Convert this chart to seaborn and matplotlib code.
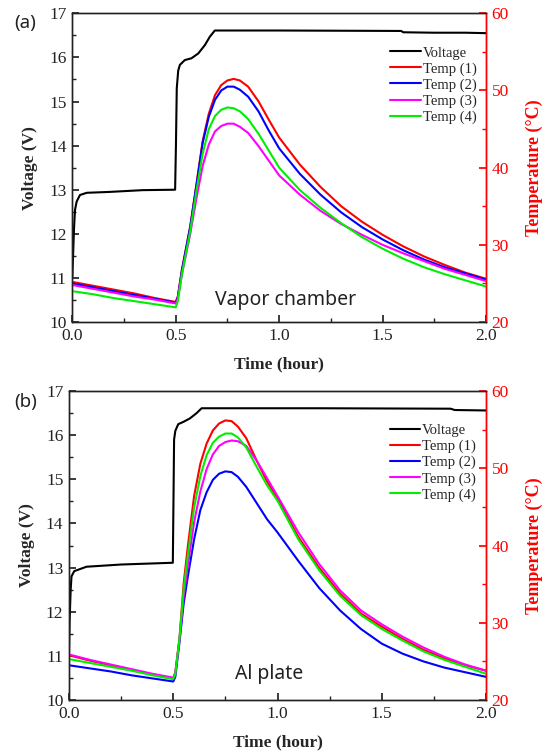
import numpy as np
import pandas as pd
import matplotlib
matplotlib.use("Agg")
import matplotlib.pyplot as plt
import seaborn as sns
from matplotlib.ticker import MultipleLocator

# voltage traces (time in hours, volts)
volt_t_a = [0, 0.003, 0.008, 0.013, 0.021, 0.037, 0.07, 0.18, 0.34, 0.497, 0.501, 0.505,
            0.512, 0.52, 0.544, 0.576, 0.609, 0.641, 0.665, 0.689, 1.0, 1.59, 1.6, 1.75, 1.9, 2.0]
volt_a = [11.0, 11.4, 12.1, 12.54, 12.73, 12.88, 12.93, 12.95, 12.99, 13.0, 14.0, 15.3,
          15.7, 15.83, 15.94, 15.98, 16.09, 16.28, 16.47, 16.61, 16.61, 16.6, 16.57, 16.56, 16.56, 16.55]

volt_t_b = [0, 0.003, 0.008, 0.012, 0.025, 0.084, 0.25, 0.498, 0.501, 0.504, 0.51, 0.524,
            0.548, 0.58, 0.612, 0.636, 1.2, 1.83, 1.85, 2.0]
volt_b = [11.07, 11.8, 12.5, 12.8, 12.92, 13.02, 13.07, 13.11, 14.5, 15.9, 16.1, 16.25,
          16.3, 16.38, 16.5, 16.61, 16.61, 16.6, 16.57, 16.56]

# temperature traces, same time grid for both panels
temp_t = [0, 0.1, 0.2, 0.3, 0.4, 0.5, 0.51, 0.53, 0.55, 0.57, 0.6, 0.63, 0.66, 0.69, 0.72,
          0.75, 0.78, 0.81, 0.85, 0.9, 0.95, 1.0, 1.1, 1.2, 1.3, 1.4, 1.5, 1.6, 1.7, 1.8, 1.9, 2.0]

temp1_a = [25.2, 24.7, 24.2, 23.7, 23.1, 22.6, 23.3, 26.8, 29.6, 32.4, 37.8, 43.4, 47.0, 49.4, 50.7,
           51.3, 51.5, 51.3, 50.5, 48.6, 46.2, 43.9, 40.4, 37.5, 35.0, 33.0, 31.3, 29.8, 28.5, 27.4, 26.4, 25.6]
temp2_a = [25.0, 24.5, 24.0, 23.5, 23.0, 22.5, 23.2, 26.7, 29.5, 32.3, 37.7, 43.2, 46.6, 48.8, 50.0,
           50.5, 50.5, 50.1, 49.2, 47.3, 44.8, 42.5, 39.2, 36.5, 34.2, 32.3, 30.7, 29.3, 28.1, 27.1, 26.3, 25.5]
temp3_a = [24.8, 24.3, 23.8, 23.3, 22.9, 22.4, 23.0, 26.2, 28.8, 31.4, 36.0, 40.2, 43.0, 44.7, 45.4,
           45.7, 45.7, 45.3, 44.5, 42.8, 40.9, 39.0, 36.5, 34.4, 32.7, 31.3, 30.0, 28.9, 27.9, 26.9, 26.1, 25.3]
temp4_a = [24.0, 23.6, 23.1, 22.7, 22.3, 21.9, 22.7, 26.2, 29.0, 31.8, 37.0, 41.8, 45.0, 46.7, 47.5,
           47.8, 47.7, 47.3, 46.3, 44.4, 42.2, 40.0, 37.1, 34.8, 32.8, 31.0, 29.5, 28.2, 27.1, 26.2, 25.4, 24.6]

temp1_b = [25.8, 25.1, 24.5, 23.9, 23.3, 22.8, 23.6, 28.0, 35.1, 39.9, 46.4, 50.6, 53.2, 54.9, 55.8,
           56.2, 56.1, 55.4, 53.9, 51.0, 48.3, 46.1, 41.1, 37.1, 33.8, 31.2, 29.5, 27.9, 26.5, 25.4, 24.5, 23.8]
temp2_b = [24.5, 24.1, 23.7, 23.2, 22.8, 22.4, 23.0, 27.5, 32.5, 36.0, 40.8, 44.6, 46.9, 48.5, 49.3,
           49.6, 49.5, 48.9, 47.6, 45.5, 43.4, 41.7, 38.0, 34.5, 31.6, 29.2, 27.3, 26.0, 25.0, 24.2, 23.6, 23.0]
temp3_b = [25.9, 25.2, 24.6, 24.0, 23.4, 22.9, 23.5, 27.9, 33.5, 37.4, 43.0, 47.0, 49.9, 51.8, 52.9,
           53.4, 53.6, 53.5, 52.9, 51.0, 48.7, 46.4, 41.7, 37.6, 34.2, 31.6, 29.8, 28.2, 26.8, 25.6, 24.6, 23.8]
temp4_b = [25.3, 24.8, 24.3, 23.8, 23.2, 22.7, 23.4, 28.0, 34.4, 38.8, 44.9, 49.0, 51.7, 53.3, 54.1,
           54.5, 54.5, 54.0, 52.7, 50.2, 47.8, 45.8, 40.8, 36.8, 33.5, 31.0, 29.2, 27.7, 26.3, 25.2, 24.3, 23.4]

temp_labels = ["Temp (1)", "Temp (2)", "Temp (3)", "Temp (4)"]
temp_colors = ["#ff0000", "#0000ff", "#ff00ff", "#00ee00"]

sns.set_theme(style="ticks")
plt.rcParams["font.family"] = ["Liberation Serif", "DejaVu Serif"]

fig = plt.figure(figsize=(5.42, 7.52), dpi=100)

panels = [
    ([0.1334, 0.5718, 0.7633, 0.4105], volt_t_a, volt_a, [temp1_a, temp2_a, temp3_a, temp4_a],
     "(a)", 0.969, "Vapor chamber", 1.03, 10.5),
    ([0.1273, 0.0691, 0.7694, 0.4109], volt_t_b, volt_b, [temp1_b, temp2_b, temp3_b, temp4_b],
     "(b)", 0.466, "Al plate", 0.96, 10.6),
]

for rect, vt, vv, temps, tag, tag_y, note, note_x, note_y in panels:
    ax = fig.add_axes(rect)
    ax2 = ax.twinx()

    sns.lineplot(x=vt, y=vv, ax=ax, color="black", lw=1.5, label="Voltage",
                 estimator=None, sort=False, legend=False)
    for vals, lab, col in zip(temps, temp_labels, temp_colors):
        sns.lineplot(x=temp_t, y=vals, ax=ax2, color=col, lw=1.5, label=lab,
                     estimator=None, sort=False, legend=False)

    ax.set_xlim(0, 2.0)
    ax.set_ylim(10, 17)
    ax2.set_ylim(20, 60)
    ax.xaxis.set_major_locator(MultipleLocator(0.5))
    ax.xaxis.set_minor_locator(MultipleLocator(0.25))
    ax.yaxis.set_major_locator(MultipleLocator(1))
    ax.yaxis.set_minor_locator(MultipleLocator(0.5))
    ax2.yaxis.set_major_locator(MultipleLocator(10))
    ax2.yaxis.set_minor_locator(MultipleLocator(5))
    ax.xaxis.set_major_formatter(plt.FormatStrFormatter("%.1f"))

    ax.tick_params(which="both", direction="in", labelsize=12.5, colors="#222222",
                   left=True, bottom=True, top=False, right=False, pad=4)
    ax.tick_params(which="major", length=5)
    ax.tick_params(which="minor", length=3)
    ax2.tick_params(which="both", direction="in", colors="red", labelsize=12.5, pad=4)
    ax2.tick_params(which="major", length=5)
    ax2.tick_params(which="minor", length=3)
    for side in ["left", "bottom", "top"]:
        ax2.spines[side].set_color("#222222")
    ax2.spines["right"].set_color("red")
    for s in list(ax.spines.values()) + list(ax2.spines.values()):
        s.set_linewidth(1.0)

    ax.set_xlabel("Time (hour)", fontsize=12.5, fontweight="bold", labelpad=9)
    ax.set_ylabel("Voltage (V)", fontsize=12.5, fontweight="bold", labelpad=8)
    ax2.set_ylabel("Temperature (\u00b0C)", fontsize=13, fontweight="bold", color="red", labelpad=12)

    h1, l1 = ax.get_legend_handles_labels()
    h2, l2 = ax2.get_legend_handles_labels()
    ax2.legend(h1 + h2, l1 + l2, loc="upper left", bbox_to_anchor=(0.755, 0.912),
               frameon=False, fontsize=10.5, handlelength=2.1, handletextpad=0.1,
               labelspacing=0.18, borderaxespad=0)

    ax.text(note_x, note_y, note, fontsize=14, family=["Noto Sans", "DejaVu Sans"],
            ha="center", va="center", color="#222222")
    fig.text(0.026, tag_y, tag, fontsize=13.5, family=["Noto Sans", "DejaVu Sans"],
             ha="left", va="center", color="#222222")

fig.savefig("out.png", dpi=100)
